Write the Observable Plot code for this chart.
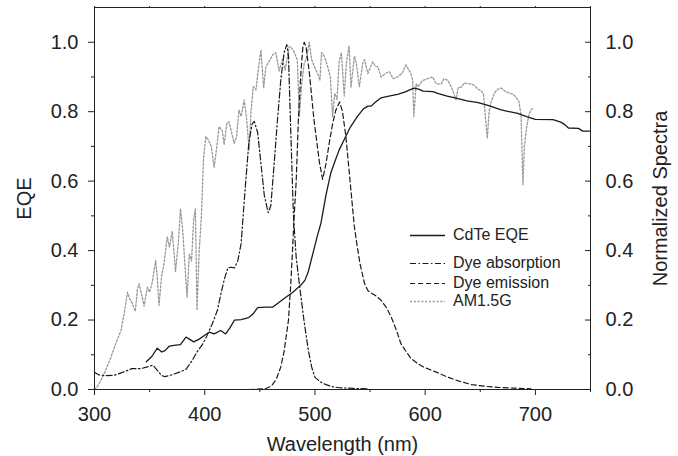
<!DOCTYPE html>
<html>
<head>
<meta charset="utf-8">
<script src="https://cdn.jsdelivr.net/npm/d3@7"></script>
<script src="https://cdn.jsdelivr.net/npm/@observablehq/plot@0.6"></script>
<style>
  body { margin: 0; background: #fff; }
  #wrap { position: relative; width: 678px; height: 456px; font-family: "Liberation Sans", Arial, sans-serif; }
  #legend { position: absolute; left: 410px; top: 226px; font-size: 16px; color: #222; }
  .row { position: absolute; left: 0; height: 18px; display: flex; align-items: center; white-space: nowrap; }
  .row svg { width: 36px; height: 18px; margin-right: 7px; }
</style>
</head>
<body>
<div id="wrap"></div>
<script>
// ---- data (wavelength nm, value) ----
const cdteEQE = [
  [347,0.080],[352,0.095],[357,0.119],[361,0.108],[364,0.112],[367.5,0.124],[372,0.127],[378,0.129],
  [383,0.151],[386,0.145],[390,0.137],[395,0.145],[400,0.156],[404,0.165],[408.5,0.160],[414.5,0.170],
  [419,0.160],[423,0.178],[427,0.200],[433,0.201],[440,0.207],[444,0.218],[448,0.236],[455,0.237],
  [461.5,0.237],[467,0.250],[472,0.262],[480,0.280],[487,0.300],[491,0.315],[494,0.340],[498,0.390],
  [502,0.440],[505.5,0.480],[510,0.560],[514.5,0.625],[518,0.656],[522,0.690],[526.6,0.720],[532,0.755],
  [538.7,0.787],[544,0.808],[548,0.816],[551,0.816],[555,0.828],[560,0.840],[567,0.845],[575,0.850],
  [582,0.857],[587,0.864],[590,0.868],[594,0.865],[598,0.859],[607,0.858],[612,0.852],[620,0.845],
  [628,0.839],[638,0.831],[648,0.826],[657,0.818],[669,0.805],[684,0.795],[692,0.786],[700,0.778],
  [716,0.777],[723,0.770],[727,0.762],[730,0.753],[739,0.752],[743,0.744],[750,0.744]
];
const dyeAbsorption = [
  [300,0.050],[304,0.042],[310,0.040],[318,0.041],[326,0.050],[334,0.060],[342,0.060],[348,0.065],
  [353,0.070],[357,0.055],[361,0.040],[364,0.037],[370,0.042],[377,0.050],[383,0.058],[388,0.080],
  [393,0.108],[398,0.130],[402,0.155],[407,0.190],[411.5,0.228],[415,0.280],[418,0.320],[421,0.350],
  [424,0.352],[427,0.350],[430,0.370],[433,0.420],[436,0.550],[440,0.710],[443,0.765],[445,0.772],
  [448,0.740],[451,0.651],[454,0.560],[457.6,0.509],[460,0.530],[463,0.650],[466,0.776],[469,0.890],
  [472,0.970],[474.5,0.993],[476,0.960],[478,0.750],[480.5,0.500],[483,0.380],[486,0.300],[490,0.200],
  [494,0.113],[497,0.065],[500,0.035],[505,0.022],[510,0.014],[516,0.008],[522,0.005],[535,0.003],[549,0.002]
];
const dyeEmission = [
  [397,0.000],[420,0.000],[440,0.000],[455,0.002],[460.5,0.010],[465,0.030],[469,0.065],[472,0.110],
  [476,0.200],[478,0.300],[479.5,0.390],[481,0.490],[483,0.600],[485,0.780],[487,0.900],[489,0.985],
  [490.3,1.000],[492,0.985],[495,0.910],[499,0.780],[504,0.655],[507,0.605],[510,0.650],[513,0.710],
  [516,0.765],[519,0.805],[522.4,0.828],[525,0.800],[528,0.730],[531,0.630],[535.7,0.470],[538,0.420],
  [541,0.360],[545,0.305],[548,0.285],[551,0.278],[556,0.268],[560,0.257],[565,0.235],[569,0.210],
  [574,0.170],[578,0.132],[583,0.108],[587,0.090],[593,0.075],[599,0.064],[610,0.050],[620,0.036],
  [630,0.025],[642,0.014],[655,0.009],[666,0.006],[680,0.004],[696,0.002]
];
const am15g = [
  [300,0.000],[303,0.010],[308,0.040],[314,0.085],[319,0.130],[324,0.170],[327,0.220],[330,0.280],
  [332,0.260],[334,0.250],[337,0.225],[339,0.290],[340.5,0.305],[343,0.270],[345,0.240],[348,0.295],
  [350,0.280],[352.5,0.310],[355.5,0.372],[357,0.320],[358.5,0.242],[361,0.330],[363,0.360],[366,0.440],
  [368,0.410],[370.5,0.455],[372,0.400],[373.5,0.340],[376,0.420],[378,0.520],[380,0.460],[382,0.360],
  [384,0.265],[386,0.390],[388,0.370],[390,0.490],[391.5,0.520],[393,0.228],[395,0.400],[397,0.500],
  [399,0.670],[401,0.728],[403,0.720],[406,0.700],[408.5,0.640],[411,0.700],[413,0.757],[416,0.745],
  [417.6,0.705],[420,0.765],[422,0.771],[424,0.745],[426.7,0.709],[429,0.730],[431,0.805],[433,0.786],
  [435.8,0.834],[438,0.780],[440.3,0.690],[442,0.800],[444,0.872],[446.5,0.863],[448.5,0.920],[451,0.978],
  [453.5,0.868],[455.5,0.930],[457.5,0.940],[459.5,0.950],[461.5,0.963],[464.5,0.970],[467.5,0.917],
  [470.5,0.950],[473,0.920],[476.7,0.988],[478.5,0.985],[481,0.973],[484,0.950],[485.8,0.786],[488,0.880],
  [490.3,0.940],[492,0.950],[494.8,1.000],[497,0.950],[499.4,0.930],[502.4,0.910],[504.5,0.890],[506,0.970],
  [508.5,0.960],[511.5,0.930],[514,0.900],[516,0.786],[518,0.853],[520,0.835],[522,0.945],[524,0.970],
  [526.6,0.845],[528.5,0.940],[531,0.990],[532.7,0.870],[535.8,0.960],[537.5,0.940],[540.3,0.872],
  [543.4,0.940],[545,0.950],[548,0.910],[552.4,0.944],[555,0.930],[557,0.930],[560,0.900],[564,0.910],
  [567.5,0.915],[571,0.895],[575,0.900],[579,0.910],[582.6,0.935],[587,0.910],[588.7,0.890],[589.7,0.786],
  [591.8,0.880],[593.3,0.872],[597.8,0.890],[602,0.895],[606.8,0.900],[610,0.880],[614.5,0.880],[617,0.895],
  [620.6,0.890],[624,0.870],[628,0.834],[630,0.870],[632.6,0.870],[635.7,0.883],[638.8,0.880],[641.8,0.880],
  [644.8,0.875],[647.8,0.865],[650.9,0.860],[653,0.850],[654.5,0.790],[656.4,0.723],[658,0.800],[660,0.830],
  [663,0.855],[666,0.865],[669,0.868],[672,0.860],[675,0.855],[680,0.850],[682.7,0.840],[685,0.830],
  [687,0.790],[688.7,0.590],[690,0.700],[691.8,0.750],[694,0.790],[696.3,0.807],[699,0.810]
];

// ---- axis tick values ----
const xMajor = [300, 400, 500, 600, 700];
const xMinor = [350, 450, 550, 650, 750];
const yMajor = [0, 0.2, 0.4, 0.6, 0.8, 1.0];
const yMinor = [0.1, 0.3, 0.5, 0.7, 0.9];

// ---- legend entries ----
const legendLabels = ["CdTe EQE", "Dye absorption", "Dye emission", "AM1.5G"];

const ink = "#1a1a1a";
const styles = {
  cdte: {stroke: ink, strokeWidth: 1.3, dash: null},
  abs:  {stroke: ink, strokeWidth: 1.2, dash: "6,2.5,1.5,2.5"},
  em:   {stroke: ink, strokeWidth: 1.2, dash: "5,3"},
  am:   {stroke: "#999999", strokeWidth: 1.3, dash: "2,1.8"}
};

const fmt = d3.format(".1f");
const X = d => d[0], Y = d => d[1];

const chart = Plot.plot({
  width: 678,
  height: 456,
  marginLeft: 94,
  marginRight: 88,
  marginTop: 7,
  marginBottom: 67,
  x: {domain: [300, 750]},
  y: {domain: [0, 1.1]},
  style: {fontFamily: "'Liberation Sans', Arial, sans-serif", fontSize: "20px", color: "#222", background: "#fff"},
  marks: [
    Plot.line(am15g, {x: X, y: Y, stroke: styles.am.stroke, strokeWidth: styles.am.strokeWidth, strokeDasharray: styles.am.dash}),
    Plot.line(dyeEmission, {x: X, y: Y, stroke: styles.em.stroke, strokeWidth: styles.em.strokeWidth, strokeDasharray: styles.em.dash}),
    Plot.line(dyeAbsorption, {x: X, y: Y, stroke: styles.abs.stroke, strokeWidth: styles.abs.strokeWidth, strokeDasharray: styles.abs.dash}),
    Plot.line(cdteEQE, {x: X, y: Y, stroke: styles.cdte.stroke, strokeWidth: styles.cdte.strokeWidth}),
    // bottom axis
    Plot.axisX({anchor: "bottom", ticks: xMajor, tickSize: 6, tickPadding: 11, tickFormat: d => String(d),
      label: "Wavelength (nm)", labelAnchor: "center", labelOffset: 61, labelArrow: false}),
    Plot.axisX({anchor: "bottom", ticks: xMinor, tickSize: 3, fill: "none", label: null}),
    Plot.axisX({anchor: "top", ticks: [...xMajor, ...xMinor], tickSize: 2, fill: "none", label: null}),
    // left axis
    Plot.axisY({anchor: "left", ticks: yMajor, tickSize: 6, tickPadding: 10, tickFormat: fmt,
      label: "EQE", labelAnchor: "center", labelOffset: 78, labelArrow: false}),
    Plot.axisY({anchor: "left", ticks: yMinor, tickSize: 3, fill: "none", label: null}),
    // right axis (inward ticks)
    Plot.axisY({anchor: "right", ticks: yMajor, tickSize: 6, dx: -6, fill: "none", label: null}),
    Plot.axisY({anchor: "right", ticks: yMinor, tickSize: 3, dx: -3, fill: "none", label: null}),
    Plot.axisY({anchor: "right", ticks: yMajor, tickSize: 0, tickPadding: 15, tickFormat: fmt,
      label: "Normalized Spectra", labelAnchor: "center", labelOffset: 76, labelArrow: false}),
    Plot.frame({stroke: "#222", strokeWidth: 1})
  ]
});

const wrap = document.getElementById("wrap");
wrap.appendChild(chart);

// legend overlay
const legend = document.createElement("div");
legend.id = "legend";
const rowTops = [0, 28, 47.5, 66];
const keys = ["cdte", "abs", "em", "am"];
legendLabels.forEach((lab, i) => {
  const s = styles[keys[i]];
  const row = document.createElement("div");
  row.className = "row";
  row.style.top = rowTops[i] + "px";
  row.innerHTML = `<svg viewBox="0 0 36 18"><line x1="0" x2="35" y1="9.5" y2="9.5" stroke="${s.stroke}" stroke-width="${s.strokeWidth}" ${s.dash ? `stroke-dasharray="${s.dash}"` : ""}/></svg><span>${lab}</span>`;
  legend.appendChild(row);
});
wrap.appendChild(legend);
</script>
</body>
</html>
